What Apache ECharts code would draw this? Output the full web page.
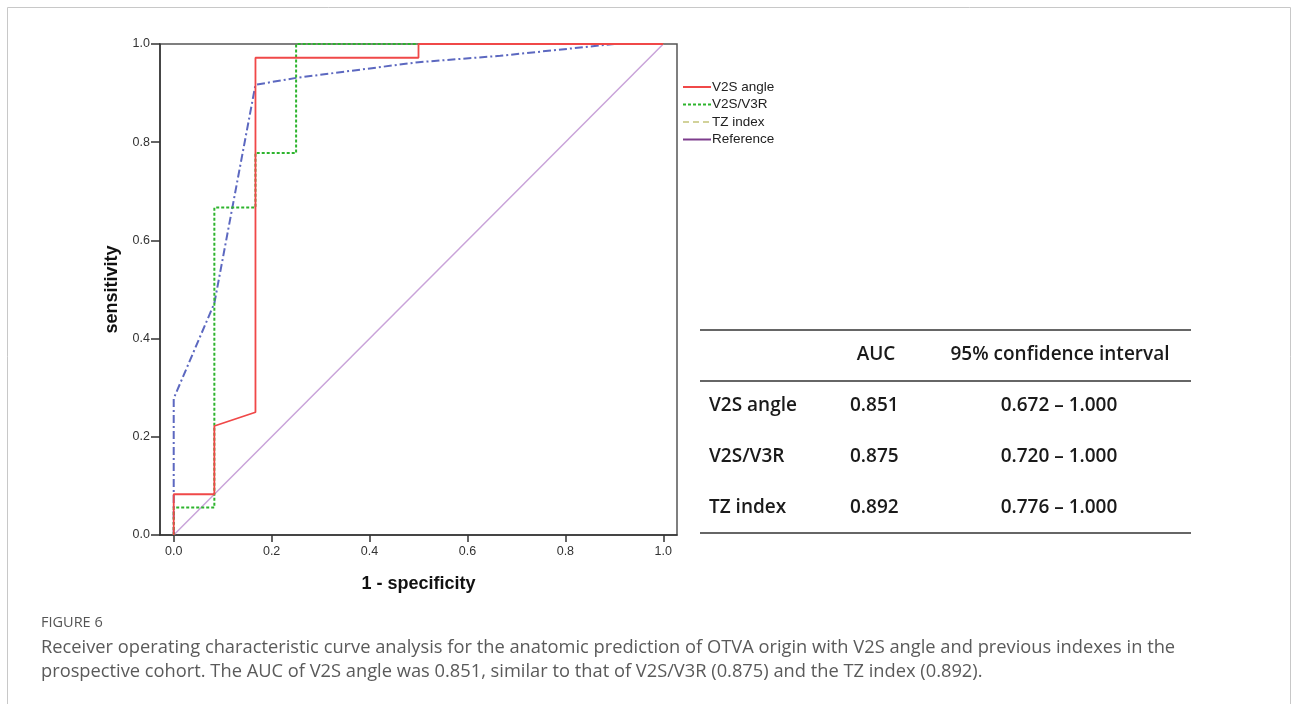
<!DOCTYPE html>
<html>
<head>
<meta charset="utf-8">
<script src="https://cdn.jsdelivr.net/npm/echarts@6/dist/echarts.min.js"></script>
<style>
  html, body { margin: 0; padding: 0; background: #fff; }
  #chart { width: 1293px; height: 704px; }
</style>
</head>
<body>
<div id="chart"></div>
<script>
// tick labels
const xTicks = [0, 0.2, 0.4, 0.6, 0.8, 1.0]

// ROC curves [1 - specificity, sensitivity]
const v2sAngle = [[0, 0], [0, 0.083], [0.083, 0.083], [0.083, 0.222], [0.167, 0.25], [0.167, 0.972], [0.5, 0.972], [0.5, 1], [1, 1]]
const v2sV3r = [[0, 0], [0, 0.056], [0.083, 0.056], [0.083, 0.667], [0.167, 0.667], [0.167, 0.778], [0.25, 0.778], [0.25, 1], [1, 1]]
const tzIndex = [[0, 0], [0, 0.278], [0.083, 0.472], [0.167, 0.917], [0.25, 0.931], [0.5, 0.963], [0.667, 0.976], [0.9, 1], [1, 1]]
const reference = [[0, 0], [1, 1]]

// table
const tableHead = ['AUC', '95% confidence interval']
const tableNames = ['V2S angle', 'V2S/V3R', 'TZ index']
const tableAuc = ['0.851', '0.875', '0.892']
const tableCi = ['0.672 – 1.000', '0.720 – 1.000', '0.776 – 1.000']

const captionTitle = 'FIGURE 6'
const captionLines = [
  'Receiver operating characteristic curve analysis for the anatomic prediction of OTVA origin with V2S angle and previous indexes in the',
  'prospective cohort. The AUC of V2S angle was 0.851, similar to that of V2S/V3R (0.875) and the TZ index (0.892).'
]

const myChart = echarts.init(document.getElementById('chart'))

const tableFont = '600 19px "Open Sans", sans-serif'
const graphics = [
  { type: 'rect', shape: { x: 7.5, y: 7.5, width: 1283, height: 720 }, style: { fill: 'none', stroke: '#c8c8c8', lineWidth: 1 } }
]
// table rules
;[330, 381, 533].forEach(y => {
  graphics.push({ type: 'line', shape: { x1: 700, y1: y, x2: 1191, y2: y }, style: { stroke: '#333', lineWidth: 1.3 } })
})
graphics.push({ type: 'text', x: 876, y: 355, style: { text: tableHead[0], font: tableFont, fill: '#1a1a1a', align: 'center', verticalAlign: 'middle' } })
graphics.push({ type: 'text', x: 1060, y: 355, style: { text: tableHead[1], font: tableFont, fill: '#1a1a1a', align: 'center', verticalAlign: 'middle' } })
tableNames.forEach((name, i) => {
  const y = 406 + i * 51
  graphics.push({ type: 'text', x: 709, y: y, style: { text: name, font: tableFont, fill: '#1a1a1a', align: 'left', verticalAlign: 'middle' } })
  graphics.push({ type: 'text', x: 850, y: y, style: { text: tableAuc[i], font: tableFont, fill: '#1a1a1a', align: 'left', verticalAlign: 'middle' } })
  graphics.push({ type: 'text', x: 1059, y: y, style: { text: tableCi[i], font: tableFont, fill: '#1a1a1a', align: 'center', verticalAlign: 'middle' } })
})
// caption
graphics.push({ type: 'text', x: 41, y: 623, style: { text: captionTitle, font: '14.5px "Open Sans", sans-serif', fill: '#555', verticalAlign: 'middle' } })
captionLines.forEach((t, i) => {
  graphics.push({ type: 'text', x: 41, y: 648 + i * 24, style: { text: t, font: '18.3px "Open Sans", sans-serif', fill: '#5a5a5a', verticalAlign: 'middle' } })
})

myChart.setOption({
  animation: false,
  backgroundColor: '#fff',
  grid: {
    left: 160, top: 44, width: 517, height: 491,
    show: true, borderColor: '#555', borderWidth: 1.5, containLabel: false
  },
  legend: {
    orient: 'vertical',
    left: 677, top: 75,
    itemWidth: 28, itemHeight: 14, itemGap: 3.5,
    itemStyle: { opacity: 0 },
    textStyle: { fontFamily: 'Liberation Sans, Arial', fontSize: 13.5, color: '#222', padding: [0, 0, 0, -4] },
    data: [
      { name: 'V2S angle', itemStyle: { opacity: 0 }, lineStyle: { color: '#f04848', type: 'solid', width: 2 } },
      { name: 'V2S/V3R', itemStyle: { opacity: 0 }, lineStyle: { color: '#2db42d', type: [3, 2], width: 2 } },
      { name: 'TZ index', itemStyle: { opacity: 0 }, lineStyle: { color: '#d2d29a', type: [6, 4], width: 2 } },
      { name: 'Reference', itemStyle: { opacity: 0 }, lineStyle: { color: '#7d3c8c', type: 'solid', width: 2 } }
    ]
  },
  xAxis: {
    type: 'value', min: -0.028, max: 1.028,
    name: '1 - specificity', nameLocation: 'middle', nameGap: 40,
    nameTextStyle: { fontFamily: 'Liberation Sans, Arial', fontSize: 18, fontWeight: 'bold', color: '#111' },
    axisLine: { show: true, onZero: false, lineStyle: { color: '#333', width: 1.5 } },
    axisTick: { show: true, inside: false, length: 7, customValues: xTicks, lineStyle: { color: '#333', width: 1.5 } },
    axisLabel: { customValues: xTicks, formatter: v => v.toFixed(1), fontFamily: 'Liberation Sans, Arial', fontSize: 12.5, color: '#333', margin: 10 },
    splitLine: { show: false }
  },
  yAxis: {
    type: 'value', min: 0, max: 1, interval: 0.2,
    name: 'sensitivity', nameLocation: 'middle', nameGap: 39, nameRotate: 90,
    nameTextStyle: { fontFamily: 'Liberation Sans, Arial', fontSize: 18, fontWeight: 'bold', color: '#111' },
    axisLine: { show: true, onZero: false, lineStyle: { color: '#333', width: 1.5 } },
    axisTick: { show: true, inside: false, length: 9, lineStyle: { color: '#333', width: 1.5 } },
    axisLabel: { formatter: v => v.toFixed(1), fontFamily: 'Liberation Sans, Arial', fontSize: 12.5, color: '#333', margin: 10 },
    splitLine: { show: false }
  },
  series: [
    { name: 'Reference', type: 'line', data: reference, symbol: 'none', lineStyle: { color: '#c9a3d9', width: 1.5 }, itemStyle: { color: '#7d3c8c' }, z: 1 },
    { name: 'TZ index', type: 'line', data: tzIndex, symbol: 'none', lineStyle: { color: '#5c68c0', width: 2, type: [8, 3, 2, 3] }, itemStyle: { color: '#d2d29a' }, z: 2 },
    { name: 'V2S/V3R', type: 'line', data: v2sV3r, symbol: 'none', lineStyle: { color: '#2db42d', width: 2, type: [3, 2] }, itemStyle: { color: '#2db42d' }, z: 3 },
    { name: 'V2S angle', type: 'line', data: v2sAngle, symbol: 'none', lineStyle: { color: '#f04848', width: 1.8 }, itemStyle: { color: '#f04848' }, z: 4 }
  ],
  graphic: graphics
})
</script>
</body>
</html>
